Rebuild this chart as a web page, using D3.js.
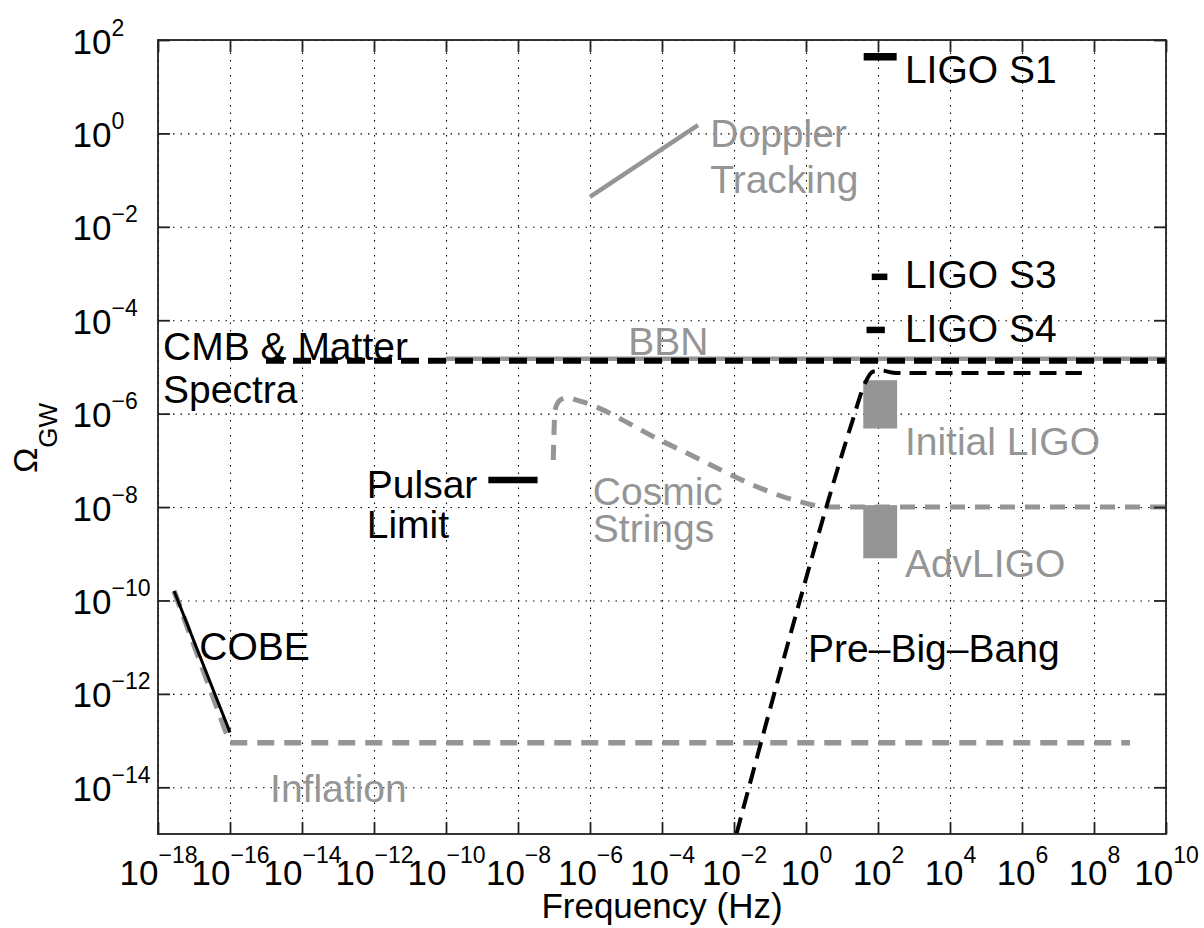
<!DOCTYPE html>
<html><head><meta charset="utf-8">
<script src="https://cdn.jsdelivr.net/npm/d3@7"></script>
<style>
body{margin:0;background:#fff;}
text{font-family:"Liberation Sans", Arial, Helvetica, sans-serif;}
</style></head>
<body><svg id="chart" width="1204" height="928"></svg>
<script>
// ---------- tick values / labels ----------
const xTickValues = [1e-18,1e-16,1e-14,1e-12,1e-10,1e-8,1e-6,1e-4,1e-2,1e0,1e2,1e4,1e6,1e8,1e10];
const xTickExponents = ["\u221218","\u221216","\u221214","\u221212","\u221210","\u22128","\u22126","\u22124","\u22122","0","2","4","6","8","10"];
const yTickValues = [1e-14,1e-12,1e-10,1e-8,1e-6,1e-4,1e-2,1e0,1e2];
const yTickExponents = ["\u221214","\u221212","\u221210","\u22128","\u22126","\u22124","\u22122","0","2"];

// ---------- data series ----------
const cobeFreq = [2.8e-18, 1.0e-16];
const cobeOmega = [1.6e-10, 1.5e-13];
const inflationFreq = [2.8e-18, 1.0e-16, 1.0e9];
const inflationOmega = [1.6e-10, 9e-14, 9e-14];
const bbnFreq = [1e-10, 1e10];
const bbnOmega = [1.5e-5, 1.5e-5];
const cmbFreq = [1e-15, 1e10];
const cmbOmega = [1.35e-5, 1.35e-5];
const pulsarFreq = [1.5e-9, 3.5e-8];
const pulsarOmega = [3.8e-8, 3.8e-8];
const dopplerFreq = [1e-6, 1e-3];
const dopplerOmega = [0.044, 1.5];
const ligoS1Freq = [40, 330];
const ligoS1Omega = [44, 44];
const ligoS3Freq = [67, 182];
const ligoS3Omega = [8.5e-4, 8.5e-4];
const ligoS4Freq = [48, 155];
const ligoS4Omega = [6.2e-5, 6.2e-5];
const initialLigoFreq = [39, 340];
const initialLigoOmega = [4.8e-7, 5.2e-6];
const advLigoFreq = [39, 340];
const advLigoOmega = [8e-10, 1.1e-8];
const cosmicFreq = [9.55e-8, 1.07e-7, 1.48e-7, 2.24e-7, 4.27e-7, 1.35e-4, 0.68, 2.0, 6.3, 1e10];
const cosmicOmega = [1.02e-7, 1.2e-6, 1.95e-6, 2.19e-6, 1.95e-6, 2.31e-7, 1.3e-8, 1.07e-8, 1e-8, 1e-8];
const pbbFreq = [0.0117, 0.676, 4.17, 18.6, 43.7, 70.8, 126, 316, 4.6e7];
const pbbOmega = [1e-15, 1e-10, 1.4e-8, 6.2e-7, 4.5e-6, 7.9e-6, 8.3e-6, 7.4e-6, 7.4e-6];

// ---------- annotation labels ----------
const labelTexts = ["LIGO S1","LIGO S3","LIGO S4","Initial LIGO","AdvLIGO","Pre\u2013Big\u2013Bang","COBE","Inflation","CMB & Matter","Spectra","Pulsar","Limit","Cosmic","Strings","Doppler","Tracking","BBN"];
const labelFreq  = [560, 560, 560, 560, 560, 1.14, 1.4e-17, 1.3e-15, 1.38e-18, 1.38e-18, 6.3e-13, 6.3e-13, 1.2e-6, 1.2e-6, 2.2e-3, 2.2e-3, 1.15e-5];
const labelOmega = [12, 4.9e-4, 3.4e-5, 1.3e-7, 3.2e-10, 4.8e-12, 5.2e-12, 4.8e-15, 1.4e-5, 1.7e-6, 1.6e-8, 2.2e-9, 1.1e-8, 1.8e-9, 0.52, 0.052, 1.8e-5];
const labelGray  = [false,false,false,true,true,false,false,true,false,false,false,false,true,true,true,true,true];

// ---------- setup ----------
const W = 1204, H = 928;
const pL = 158, pR = 1166, pT = 40, pB = 834;
const GRAY = "#959595";
const svg = d3.select("#chart");
svg.append("rect").attr("width", W).attr("height", H).attr("fill", "#fff");

const x = d3.scaleLog().domain([1e-18, 1e10]).range([pL, pR]);
const y = d3.scaleLog().domain([1e-15, 1e2]).range([pB, pT]);

svg.append("clipPath").attr("id", "clip").append("rect")
  .attr("x", pL).attr("y", pT).attr("width", pR - pL).attr("height", pB - pT);

// ---------- grid ----------
const gridX = svg.append("g").attr("transform", `translate(0,${pB})`)
  .call(d3.axisBottom(x).tickValues(xTickValues).tickSize(-(pB - pT)).tickFormat(""));
const gridY = svg.append("g").attr("transform", `translate(${pL},0)`)
  .call(d3.axisLeft(y).tickValues(yTickValues).tickSize(-(pR - pL)).tickFormat(""));
[gridX, gridY].forEach(g => {
  g.select(".domain").remove();
  g.selectAll("line").attr("stroke", "#000").attr("stroke-width", 1.1).attr("stroke-dasharray", "1.5,6");
});

// ---------- marks ----------
const plot = svg.append("g").attr("clip-path", "url(#clip)");
const zip = (fs, os) => fs.map((f, i) => [f, os[i]]);
const line = d3.line().x(d => x(d[0])).y(d => y(d[1]));
const smooth = d3.line().x(d => x(d[0])).y(d => y(d[1])).curve(d3.curveMonotoneX);

function path(gen, fs, os, color, width, dash) {
  plot.append("path").datum(zip(fs, os)).attr("d", gen)
    .attr("fill", "none").attr("stroke", color).attr("stroke-width", width)
    .attr("stroke-dasharray", dash || null).attr("stroke-linejoin", "round");
}
function box(fs, os) {
  plot.append("rect")
    .attr("x", x(fs[0])).attr("width", x(fs[1]) - x(fs[0]))
    .attr("y", y(os[1])).attr("height", y(os[0]) - y(os[1]))
    .attr("fill", GRAY);
}

path(line, inflationFreq, inflationOmega, GRAY, 5.5, "17,10");
path(line, cobeFreq, cobeOmega, "#000", 3);
path(smooth, cosmicFreq, cosmicOmega, GRAY, 5, "15,10");
path(line, bbnFreq, bbnOmega, GRAY, 4.5);
path(line, cmbFreq, cmbOmega, "#000", 6, "18,9");
box(initialLigoFreq, initialLigoOmega);
box(advLigoFreq, advLigoOmega);
path(smooth, pbbFreq, pbbOmega, "#000", 4, "17,9");
path(line, pulsarFreq, pulsarOmega, "#000", 6.5);
path(line, dopplerFreq, dopplerOmega, GRAY, 4.5);
path(line, ligoS1Freq, ligoS1Omega, "#000", 7.5);
path(line, ligoS3Freq, ligoS3Omega, "#000", 6.5);
path(line, ligoS4Freq, ligoS4Omega, "#000", 6.5);

// ---------- axes (ticks inward, box) ----------
const tk = 12;
const axB = svg.append("g").attr("transform", `translate(0,${pB})`).call(d3.axisBottom(x).tickValues(xTickValues).tickSize(-tk).tickFormat(""));
const axT = svg.append("g").attr("transform", `translate(0,${pT})`).call(d3.axisTop(x).tickValues(xTickValues).tickSize(-tk).tickFormat(""));
const axL = svg.append("g").attr("transform", `translate(${pL},0)`).call(d3.axisLeft(y).tickValues(yTickValues).tickSize(-tk).tickFormat(""));
const axR = svg.append("g").attr("transform", `translate(${pR},0)`).call(d3.axisRight(y).tickValues(yTickValues).tickSize(-tk).tickFormat(""));
[axB, axT, axL, axR].forEach(g => {
  g.select(".domain").remove();
  g.selectAll("line").attr("stroke", "#222").attr("stroke-width", 1.8);
});
svg.append("rect").attr("x", pL).attr("y", pT).attr("width", pR - pL).attr("height", pB - pT)
  .attr("fill", "none").attr("stroke", "#222").attr("stroke-width", 1.8);

// ---------- tick labels ----------
axB.selectAll(".tick").each(function(d, i) {
  const t = d3.select(this).append("text").attr("x", 0).attr("y", 885 - pB)
    .attr("text-anchor", "middle").attr("fill", "#000");
  t.append("tspan").attr("font-size", 35).text("10");
  t.append("tspan").attr("font-size", 23).attr("dy", -22).text(xTickExponents[i]);
});
axL.selectAll(".tick").each(function(d, i) {
  const g = d3.select(this);
  g.append("text").attr("x", 111.5 - pL).attr("y", 13).attr("text-anchor", "end")
    .attr("font-size", 35).attr("fill", "#000").text("10");
  g.append("text").attr("x", 111.5 - pL).attr("y", -5).attr("text-anchor", "start")
    .attr("font-size", 23).attr("fill", "#000").text(yTickExponents[i]);
});

// ---------- axis titles ----------
svg.append("text").attr("x", (pL + pR) / 2).attr("y", 918).attr("text-anchor", "middle")
  .attr("font-size", 35).attr("fill", "#000").text("Frequency (Hz)");
const yl = svg.append("text").attr("transform", "translate(37,438) rotate(-90)")
  .attr("text-anchor", "middle").attr("fill", "#000");
yl.append("tspan").attr("font-size", 34).text("\u03A9");
yl.append("tspan").attr("font-size", 26).attr("dy", 20).text("GW");

// ---------- annotations ----------
svg.append("g").selectAll("text").data(labelTexts).join("text")
  .attr("x", (d, i) => x(labelFreq[i]))
  .attr("y", (d, i) => y(labelOmega[i]))
  .attr("font-size", 39)
  .attr("fill", (d, i) => labelGray[i] ? GRAY : "#000")
  .text(d => d);
</script>
</body></html>
